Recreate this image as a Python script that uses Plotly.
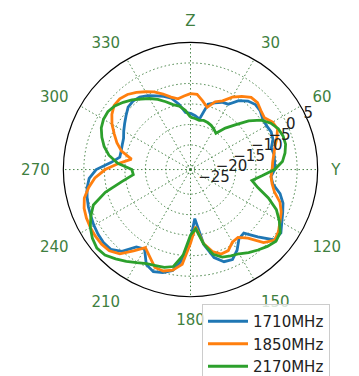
import plotly.graph_objects as go

theta_deg = list(range(0, 360, 5))

gain_1710 = [-12.3, -12.8, -13.5, -9.5, -8.7, -7.9, -7.6, -5.5, -4.2, -3.6,
             -3.8, -4.5, -4.6, -4.3, -4.6, -5.6, -5.3, -5.4, -5.5, -6.3,
             -5.6, -3.4, -2.0, -1.2, -0.3, 0.9, 0.7, -2.8, -5.8, -5.4,
             -3.3, -1.8, -2.1, -3.8, -7.5, -14.0, -9.0, -4.0, -1.0, 0.0,
             0.5, -0.5, -3.6, -3.0, 0.0, 1.5, 1.7, 1.5, 1.2, 0.8,
             0.5, 0.1, -0.4, -1.2, -3.0, -6.5, -8.5, -8.5, -8.3, -8.0,
             -7.2, -6.4, -5.5, -4.5, -4.2, -4.4, -5.2, -6.2, -7.0, -8.0,
             -9.8, -12.0]

gain_1850 = [-7.5, -7.6, -9.0, -10.3, -8.4, -7.5, -5.6, -4.2, -3.0, -2.9,
             -3.6, -4.0, -2.9, -2.6, -3.6, -4.7, -5.4, -5.9, -6.1, -6.3,
             -5.8, -4.8, -2.8, -1.6, -0.8, 0.2, 0.8, -0.8, -4.2, -5.8,
             -5.6, -4.2, -4.1, -5.3, -7.7, -12.0, -8.0, -2.8, -1.1, -0.4,
             -0.6, -2.5, -4.0, -1.8, 0.8, 2.0, 2.3, 2.3, 2.2, 2.0,
             1.6, 0.8, -0.8, -2.6, -5.2, -8.5, -11.4, -8.6, -6.9, -5.5,
             -3.9, -2.6, -1.7, -1.6, -2.1, -3.0, -4.1, -5.1, -6.4, -7.7,
             -8.5, -8.0]

gain_2170 = [-13.2, -13.5, -13.8, -13.6, -13.8, -14.1, -14.6, -15.2, -12.8, -10.6,
             -7.5, -5.0, -3.4, -2.4, -2.0, -2.0, -2.6, -3.5, -5.5, -8.5,
             -10.8, -9.0, -5.8, -2.9, -1.0, 0.7, 1.2, 0.5, -0.4, -1.3,
             -2.3, -2.8, -3.3, -4.6, -7.6, -11.5, -10.0, -5.0, -2.0, -1.3,
             -1.1, -0.7, 0.2, 1.3, 2.4, 3.5, 3.8, 3.2, 2.2, 0.8,
             -0.8, -4.5, -9.0, -12.0, -11.7, -8.2, -5.8, -4.2, -3.0, -2.0,
             -1.5, -1.4, -1.9, -2.8, -3.8, -5.0, -6.0, -7.1, -8.4, -9.6,
             -10.3, -11.5]

series_names = ["1710MHz", "1850MHz", "2170MHz"]
series_colors = ["#1f77b4", "#ff7f0e", "#2ca02c"]

angle_ticks = list(range(0, 360, 30))
angle_labels = ["Z", "30", "60", "Y", "120", "150", "180", "210", "240", "270", "300", "330"]
radial_ticks = [-25, -20, -15, -10, -5, 0, 5]
radial_range = [-26, 5]

fig = go.Figure()
for name, color, vals in zip(series_names, series_colors, [gain_1710, gain_1850, gain_2170]):
    fig.add_trace(go.Scatterpolar(
        r=vals + vals[:1],
        theta=theta_deg + theta_deg[:1],
        mode="lines",
        name=name,
        line=dict(color=color, width=2.8),
    ))

grid_green = "rgba(40,110,40,0.85)"
label_green = "#3f7f3f"

# page body has an 8px margin; positions below are compensated for it
W, H, OFF = 359, 376, 8
cx, cy, R = 190.5 - OFF, 170 - OFF, 127.5
RADIAL_ANGLE = 31

fig.update_layout(
    width=W, height=H,
    margin=dict(l=0, r=0, t=0, b=0),
    paper_bgcolor="white",
    font=dict(family="DejaVu Sans", size=15),
    showlegend=True,
    polar=dict(
        domain=dict(x=[(cx - R) / W, (cx + R) / W],
                    y=[(H - cy - R) / H, (H - cy + R) / H]),
        bgcolor="white",
        angularaxis=dict(
            rotation=90,
            direction="clockwise",
            tickmode="array",
            tickvals=angle_ticks,
            ticktext=angle_labels,
            tickfont=dict(color=label_green, size=15, family="DejaVu Sans"),
            ticks="outside",
            ticklen=10,
            tickcolor="rgba(0,0,0,0)",
            showline=True,
            linecolor="black",
            linewidth=1.2,
            showgrid=True,
            gridcolor=grid_green,
            griddash="1.5px,2.5px",
            gridwidth=1.4,
        ),
        radialaxis=dict(
            range=radial_range,
            tickmode="array",
            tickvals=radial_ticks,
            angle=RADIAL_ANGLE,
            tickangle=RADIAL_ANGLE,
            side="clockwise",
            showline=False,
            ticks="",
            tickfont=dict(color="#222222", size=15, family="DejaVu Sans"),
            showgrid=True,
            gridcolor=grid_green,
            griddash="1.5px,2.5px",
            gridwidth=1.4,
        ),
    ),
    legend=dict(
        x=(202 - OFF) / W, y=(H - (305 - OFF)) / H,
        xanchor="left", yanchor="top",
        itemwidth=40,
        bgcolor="rgba(255,255,255,0.8)",
        bordercolor="#cccccc",
        borderwidth=1,
        font=dict(size=15, color="#222222", family="DejaVu Sans"),
    ),
)

fig.write_html("out.html")
